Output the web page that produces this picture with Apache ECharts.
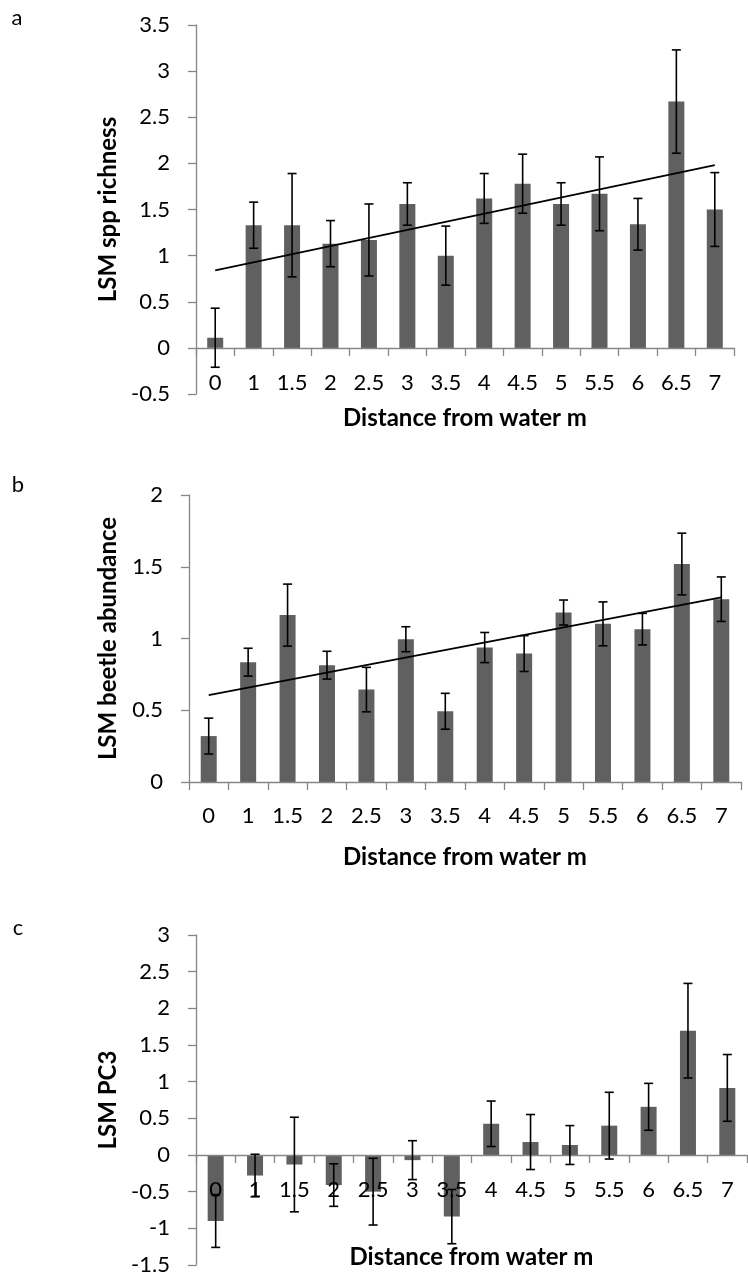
<!DOCTYPE html>
<html>
<head>
<meta charset="utf-8">
<script src="https://cdn.jsdelivr.net/npm/echarts@6/dist/echarts.min.js"></script>
<style>
html,body{margin:0;padding:0;background:#fff;}
#chart{width:748px;height:1277px;}
</style>
</head>
<body>
<div id="chart"></div>
<script>
const categories = ['0','1','1.5','2','2.5','3','3.5','4','4.5','5','5.5','6','6.5','7'];

const richness    = [0.11,1.33,1.33,1.13,1.17,1.56,1.00,1.62,1.78,1.56,1.67,1.34,2.67,1.50];
const richnessErr = [0.32,0.25,0.56,0.25,0.39,0.23,0.32,0.27,0.32,0.23,0.40,0.28,0.56,0.40];
const richnessTrend = [0.84, 1.98];

const abundance    = [0.32,0.835,1.163,0.814,0.644,0.995,0.493,0.937,0.895,1.181,1.102,1.065,1.519,1.274];
const abundanceErr = [0.125,0.097,0.216,0.097,0.155,0.087,0.125,0.105,0.125,0.087,0.153,0.11,0.215,0.155];
const abundanceTrend = [0.605, 1.286];

const pc3    = [-0.90,-0.28,-0.13,-0.41,-0.50,-0.07,-0.84,0.426,0.177,0.136,0.40,0.657,1.695,0.915];
const pc3Err = [0.36,0.29,0.645,0.29,0.455,0.265,0.37,0.31,0.375,0.265,0.455,0.32,0.645,0.455];

const yTitles = ['LSM spp richness','LSM beetle abundance','LSM PC3'];
const xTitle = 'Distance from water m';
const panelLetters = ['a','b','c'];

const FONT = 'Lato, "Open Sans", sans-serif';
const AXIS_COLOR = '#868686';
const BAR_COLOR = '#606060';

const grids = [
  {left:196, top:25,  width:538, height:369},
  {left:189, top:495, width:552, height:287},
  {left:196, top:935, width:551, height:330}
];
const yRanges = [
  {min:-0.5, max:3.5, interval:0.5},
  {min:0, max:2, interval:0.5},
  {min:-1.5, max:3, interval:0.5}
];
// label distance from the grid's bottom edge (x axis crosses at zero)
const xLabelMargins = [-22, 23, -86];

function xAxisCfg(i){
  return {
    type:'category', gridIndex:i, data:categories, z:3,
    axisLine:{show:true, onZero:true, lineStyle:{color:AXIS_COLOR, width:1.3}},
    axisTick:{show:true, length:8, inside:false, alignWithLabel:false, lineStyle:{color:AXIS_COLOR, width:1.3}},
    axisLabel:{margin:xLabelMargins[i], color:'#000', fontFamily:FONT, fontSize:22, interval:0,
      showMinLabel:true, showMaxLabel:true, hideOverlap:false},
    splitLine:{show:false}
  };
}
function yAxisCfg(i){
  return {
    type:'value', gridIndex:i, min:yRanges[i].min, max:yRanges[i].max, interval:yRanges[i].interval,
    axisLine:{show:true, onZero:false, lineStyle:{color:AXIS_COLOR, width:1.3}},
    axisTick:{show:true, length:8, inside:false, lineStyle:{color:AXIS_COLOR, width:1.3}},
    axisLabel:{margin:26, color:'#000', fontFamily:FONT, fontSize:22, showMinLabel:true, showMaxLabel:true},
    splitLine:{show:false}
  };
}

function barSeries(i, values){
  return {type:'bar', xAxisIndex:i, yAxisIndex:i, data:values, barWidth:16, z:2,
    itemStyle:{color:BAR_COLOR}, silent:true, animation:false};
}
function errSeries(i, values, errs){
  const data = values.map((v,k)=>[k, v-errs[k], v+errs[k]]);
  return {
    type:'custom', xAxisIndex:i, yAxisIndex:i, data:data, silent:true, animation:false, z:5,
    renderItem:function(params, api){
      const x = api.value(0);
      const lo = api.coord([x, api.value(1)]);
      const hi = api.coord([x, api.value(2)]);
      const hw = 4.5;
      const st = {stroke:'#000', lineWidth:1.6};
      return {type:'group', children:[
        {type:'line', shape:{x1:lo[0], y1:lo[1], x2:hi[0], y2:hi[1]}, style:st},
        {type:'line', shape:{x1:lo[0]-hw, y1:lo[1], x2:lo[0]+hw, y2:lo[1]}, style:st},
        {type:'line', shape:{x1:hi[0]-hw, y1:hi[1], x2:hi[0]+hw, y2:hi[1]}, style:st}
      ]};
    }
  };
}
function trendSeries(i, ends){
  return {type:'line', xAxisIndex:i, yAxisIndex:i,
    data:[[categories[0], ends[0]],[categories[categories.length-1], ends[1]]],
    symbol:'none', lineStyle:{color:'#000', width:1.8}, silent:true, animation:false, z:6};
}

const titleStyle = {fill:'#000', fontFamily:FONT, fontSize:24, fontWeight:'bold'};
const xTitleY = [418, 857, 1257];
const yTitleX = 108;
const letterPos = [[17,18],[18,485],[18,928]];

const graphics = [];
for(let i=0;i<3;i++){
  const g = grids[i];
  graphics.push({type:'text', x:g.left + g.width/2, y:xTitleY[i],
    style:Object.assign({text:xTitle, align:'center', verticalAlign:'middle'}, titleStyle)});
  graphics.push({type:'text', x:yTitleX, y:g.top + g.height/2, rotation:Math.PI/2,
    style:Object.assign({text:yTitles[i], align:'center', verticalAlign:'middle'}, titleStyle)});
  graphics.push({type:'text', x:letterPos[i][0], y:letterPos[i][1],
    style:{text:panelLetters[i], align:'center', verticalAlign:'middle', fill:'#000', fontFamily:FONT, fontSize:22}});
}

const chart = echarts.init(document.getElementById('chart'), null, {renderer:'canvas'});
chart.setOption({
  animation:false,
  backgroundColor:'#fff',
  grid:grids,
  xAxis:[0,1,2].map(xAxisCfg),
  yAxis:[0,1,2].map(yAxisCfg),
  graphic:graphics,
  series:[
    barSeries(0, richness), errSeries(0, richness, richnessErr), trendSeries(0, richnessTrend),
    barSeries(1, abundance), errSeries(1, abundance, abundanceErr), trendSeries(1, abundanceTrend),
    barSeries(2, pc3), errSeries(2, pc3, pc3Err)
  ]
});
</script>
</body>
</html>
